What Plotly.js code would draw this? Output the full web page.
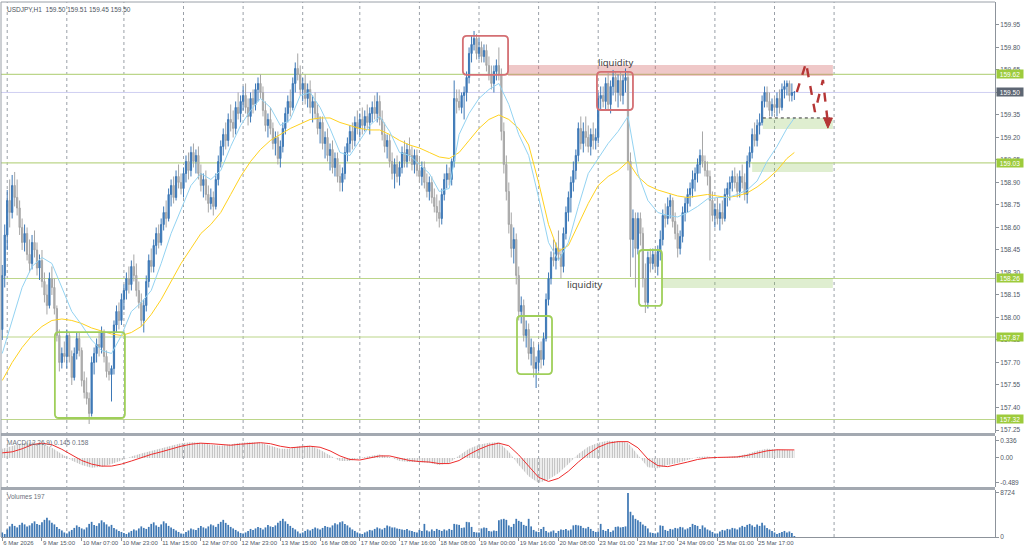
<!DOCTYPE html>
<html><head><meta charset="utf-8">
<script src="https://cdn.plot.ly/plotly-3.0.1.min.js"></script>
<style>html,body{margin:0;padding:0;background:#fff;}#chart{width:1024px;height:551px;}</style>
</head><body><div id="chart"></div>
<script>
const headerText = "USDJPY,H1  159.50 159.51 159.45 159.50";
const macdLabel = "MACD(12,26,9) 0.145 0.158";
const volLabel = "Volumes 197";

const opens = [157.92,158.28,158.55,158.78,158.70,158.88,158.80,158.73,158.60,158.50,158.56,158.42,158.36,158.50,158.45,158.33,158.38,158.24,158.15,158.08,158.26,158.20,158.06,157.88,157.70,157.76,
157.74,157.88,157.74,157.60,157.76,157.86,157.78,157.58,157.50,157.46,157.36,157.70,157.76,157.82,157.80,157.90,157.74,157.64,157.62,157.66,157.95,158.04,157.98,158.12,
158.18,158.26,158.22,158.34,158.28,158.18,158.10,157.98,158.08,158.24,158.38,158.34,158.48,158.56,158.50,158.62,158.70,158.66,158.82,158.88,158.80,158.94,158.90,
158.86,158.96,159.04,158.98,159.10,159.04,159.08,158.96,158.88,158.92,158.82,158.76,158.80,158.74,158.92,159.04,159.14,159.22,159.18,159.32,159.30,159.26,159.40,159.36,
159.44,159.48,159.40,159.34,159.46,159.42,159.52,159.56,159.50,159.38,159.28,159.32,159.26,159.16,159.20,159.06,159.14,159.26,159.36,159.44,159.40,159.56,159.66,159.62,
159.52,159.56,159.46,159.52,159.40,159.44,159.36,159.26,159.30,159.16,159.20,159.08,159.12,159.00,159.06,158.94,158.90,158.96,159.10,159.16,159.24,159.18,159.30,159.26,
159.32,159.28,159.34,159.30,159.36,159.40,159.36,159.44,159.32,159.22,159.14,159.18,159.04,158.96,159.02,158.94,159.00,159.10,159.04,159.12,159.08,159.02,159.08,
158.98,158.94,159.00,158.90,158.84,158.90,158.80,158.74,158.70,158.66,158.82,158.92,158.96,158.92,159.04,159.46,159.44,159.40,159.48,159.50,159.60,159.76,159.82,159.86,
159.76,159.80,159.74,159.78,159.68,159.62,159.56,159.64,159.68,159.62,159.24,159.02,158.84,158.62,158.46,158.52,158.28,158.04,158.08,157.88,157.92,157.76,157.80,157.66,
157.70,157.78,157.72,157.86,158.12,158.26,158.40,158.38,158.46,158.42,158.34,158.56,158.70,158.80,158.90,158.98,159.08,159.26,159.16,159.24,159.20,159.14,159.22,159.18,
159.20,159.46,159.48,159.44,159.56,159.42,159.54,159.60,159.50,159.58,159.48,159.58,159.60,159.04,158.52,158.66,158.46,158.66,158.56,158.26,158.10,158.40,158.36,158.42,
158.34,158.44,158.52,158.68,158.66,158.74,158.78,158.64,158.56,158.46,158.54,158.70,158.76,158.82,158.86,158.92,158.96,159.02,159.08,159.04,158.98,158.94,158.78,158.68,
158.72,158.66,158.70,158.66,158.82,158.86,158.90,158.94,158.90,158.84,158.94,158.90,158.82,159.04,159.10,159.22,159.18,159.28,159.30,159.44,159.50,159.44,159.38,159.42,
159.40,159.46,159.40,159.52,159.54,159.56,159.48,159.50];

const highs = [158.35,158.62,158.85,158.92,158.95,158.97,158.92,158.78,158.66,158.62,158.60,158.52,158.55,158.58,158.50,158.42,158.45,158.30,158.22,158.30,158.34,158.26,158.08,157.92,157.80,157.84,
157.92,157.90,157.78,157.80,157.90,157.90,157.80,157.64,157.60,157.50,157.74,157.80,157.86,157.90,157.94,157.92,157.78,157.70,157.68,157.98,158.08,158.10,158.16,158.22,
158.30,158.34,158.38,158.42,158.36,158.24,158.16,158.12,158.28,158.42,158.46,158.52,158.60,158.62,158.66,158.74,158.78,158.86,158.92,158.94,158.98,159.02,158.96,
159.00,159.08,159.10,159.14,159.16,159.12,159.14,159.02,158.96,158.98,158.88,158.86,158.84,158.96,159.08,159.18,159.26,159.30,159.36,159.42,159.38,159.44,159.50,159.48,
159.54,159.56,159.46,159.50,159.52,159.56,159.60,159.62,159.54,159.44,159.36,159.40,159.30,159.24,159.24,159.18,159.30,159.40,159.48,159.52,159.60,159.70,159.76,159.68,
159.60,159.62,159.56,159.58,159.48,159.50,159.42,159.34,159.34,159.24,159.26,159.16,159.18,159.10,159.10,159.02,159.00,159.14,159.20,159.28,159.30,159.34,159.38,159.36,
159.40,159.38,159.42,159.40,159.44,159.48,159.50,159.48,159.38,159.30,159.22,159.22,159.10,159.06,159.08,159.04,159.14,159.18,159.16,159.20,159.14,159.12,159.12,
159.06,159.04,159.04,158.96,158.94,158.94,158.86,158.82,158.78,158.86,158.96,159.02,159.00,159.06,159.58,159.52,159.52,159.50,159.54,159.64,159.80,159.88,159.91,159.89,
159.86,159.84,159.82,159.82,159.74,159.68,159.68,159.72,159.80,159.66,159.30,159.08,158.90,158.70,158.60,158.56,158.34,158.14,158.12,157.98,157.96,157.86,157.84,157.74,
157.82,157.84,157.90,158.16,158.30,158.44,158.52,158.50,158.58,158.46,158.60,158.74,158.84,158.94,159.04,159.12,159.30,159.34,159.30,159.34,159.28,159.26,159.30,159.26,
159.50,159.54,159.54,159.60,159.63,159.58,159.65,159.64,159.62,159.64,159.62,159.66,159.64,159.10,158.72,158.70,158.70,158.70,158.60,158.36,158.44,158.46,158.46,158.46,
158.48,158.58,158.72,158.76,158.80,158.82,158.80,158.70,158.62,158.58,158.74,158.80,158.86,158.90,158.98,159.00,159.06,159.12,159.24,159.08,159.04,158.98,158.84,158.76,
158.80,158.76,158.78,158.86,158.90,158.94,158.98,159.00,158.96,158.98,159.02,158.96,159.08,159.14,159.26,159.30,159.32,159.36,159.48,159.54,159.54,159.50,159.46,159.48,
159.50,159.52,159.56,159.58,159.58,159.58,159.56,159.51];

const lows = [157.85,158.20,158.45,158.60,158.66,158.74,158.68,158.55,158.45,158.44,158.38,158.30,158.32,158.40,158.28,158.25,158.20,158.10,158.02,158.06,158.15,158.02,157.84,157.64,157.66,157.70,
157.66,157.70,157.55,157.58,157.72,157.74,157.54,157.46,157.42,157.29,157.34,157.62,157.70,157.74,157.76,157.70,157.60,157.58,157.44,157.62,157.90,157.92,157.95,158.05,
158.12,158.16,158.18,158.24,158.14,158.06,157.94,157.90,158.04,158.20,158.30,158.30,158.42,158.46,158.48,158.58,158.60,158.64,158.74,158.76,158.78,158.86,158.82,
158.80,158.90,158.92,158.94,159.00,158.96,158.92,158.84,158.80,158.78,158.70,158.72,158.68,158.72,158.88,159.00,159.08,159.12,159.14,159.24,159.20,159.22,159.32,159.30,
159.38,159.36,159.28,159.30,159.36,159.38,159.44,159.46,159.34,159.24,159.20,159.22,159.12,159.08,159.02,159.00,159.10,159.22,159.30,159.34,159.38,159.50,159.58,159.48,
159.44,159.42,159.40,159.36,159.30,159.32,159.22,159.16,159.12,159.06,159.04,158.98,158.96,158.94,158.90,158.84,158.84,158.92,159.04,159.10,159.12,159.14,159.22,159.20,
159.22,159.24,159.26,159.22,159.30,159.32,159.30,159.28,159.18,159.10,159.06,159.00,158.92,158.86,158.90,158.88,158.96,159.00,159.00,159.04,158.98,158.96,158.94,
158.90,158.88,158.86,158.80,158.78,158.76,158.70,158.64,158.60,158.62,158.78,158.86,158.88,158.88,159.00,159.36,159.38,159.36,159.32,159.44,159.56,159.70,159.78,159.72,
159.72,159.70,159.70,159.64,159.58,159.52,159.50,159.58,159.58,159.18,158.96,158.78,158.56,158.40,158.36,158.22,157.98,157.96,157.84,157.80,157.72,157.68,157.60,157.53,
157.64,157.66,157.68,157.84,158.08,158.22,158.34,158.32,158.38,158.26,158.30,158.52,158.64,158.70,158.84,158.92,159.04,159.12,159.10,159.14,159.10,159.08,159.12,159.12,
159.16,159.38,159.40,159.38,159.38,159.36,159.48,159.44,159.40,159.44,159.42,159.50,158.98,158.27,158.40,158.20,158.42,158.48,158.20,158.03,158.06,158.30,158.32,158.30,
158.28,158.38,158.48,158.60,158.62,158.66,158.60,158.52,158.40,158.42,158.50,158.64,158.70,158.74,158.80,158.84,158.90,158.96,159.00,158.94,158.88,158.38,158.64,158.60,
158.62,158.58,158.62,158.64,158.74,158.78,158.84,158.86,158.80,158.80,158.86,158.78,158.76,159.00,159.06,159.14,159.14,159.22,159.28,159.40,159.40,159.34,159.34,159.36,
159.34,159.36,159.38,159.46,159.48,159.44,159.44,159.45];

const closes = [158.28,158.55,158.78,158.70,158.88,158.80,158.73,158.60,158.50,158.56,158.42,158.36,158.50,158.45,158.33,158.38,158.24,158.15,158.08,158.26,158.20,158.06,157.88,157.70,157.76,157.74,
157.88,157.74,157.60,157.76,157.86,157.78,157.58,157.50,157.46,157.36,157.70,157.76,157.82,157.80,157.90,157.74,157.64,157.62,157.66,157.95,158.04,157.98,158.12,158.18,
158.26,158.22,158.34,158.28,158.18,158.10,157.98,158.08,158.24,158.38,158.34,158.48,158.56,158.50,158.62,158.70,158.66,158.82,158.88,158.80,158.94,158.90,158.86,
158.96,159.04,158.98,159.10,159.04,159.08,158.96,158.88,158.92,158.82,158.76,158.80,158.74,158.92,159.04,159.14,159.22,159.18,159.32,159.30,159.26,159.40,159.36,159.44,
159.48,159.40,159.34,159.46,159.42,159.52,159.56,159.50,159.38,159.28,159.32,159.26,159.16,159.20,159.06,159.14,159.26,159.36,159.44,159.40,159.56,159.66,159.62,159.52,
159.56,159.46,159.52,159.40,159.44,159.36,159.26,159.30,159.16,159.20,159.08,159.12,159.00,159.06,158.94,158.90,158.96,159.10,159.16,159.24,159.18,159.30,159.26,159.32,
159.28,159.34,159.30,159.36,159.40,159.36,159.44,159.32,159.22,159.14,159.18,159.04,158.96,159.02,158.94,159.00,159.10,159.04,159.12,159.08,159.02,159.08,158.98,
158.94,159.00,158.90,158.84,158.90,158.80,158.74,158.70,158.66,158.82,158.92,158.96,158.92,159.04,159.46,159.44,159.40,159.48,159.50,159.60,159.76,159.82,159.86,159.76,
159.80,159.74,159.78,159.68,159.62,159.56,159.64,159.68,159.62,159.24,159.02,158.84,158.62,158.46,158.52,158.28,158.04,158.08,157.88,157.92,157.76,157.80,157.66,157.70,
157.78,157.72,157.86,158.12,158.26,158.40,158.38,158.46,158.42,158.34,158.56,158.70,158.80,158.90,158.98,159.08,159.26,159.16,159.24,159.20,159.14,159.22,159.18,159.20,
159.46,159.48,159.44,159.56,159.42,159.54,159.60,159.50,159.58,159.48,159.58,159.60,159.04,158.52,158.66,158.46,158.66,158.56,158.26,158.10,158.40,158.36,158.42,158.34,
158.44,158.52,158.68,158.66,158.74,158.78,158.64,158.56,158.46,158.54,158.70,158.76,158.82,158.86,158.92,158.96,159.02,159.08,159.04,158.98,158.94,158.78,158.68,158.72,
158.66,158.70,158.66,158.82,158.86,158.90,158.94,158.90,158.84,158.94,158.90,158.82,159.04,159.10,159.22,159.18,159.28,159.30,159.44,159.50,159.44,159.38,159.42,159.40,
159.46,159.40,159.52,159.54,159.56,159.48,159.50,159.50];

const volumes = [900,600,
1500,2100,2600,2200,1900,2400,2800,2500,2100,2300,2700,3100,2600,2400,2900,3400,3800,3300,2800,2500,2000,1600,1300,900,
700,1100,1400,1800,2300,2000,1700,1500,1900,2600,3000,2400,2200,2700,3300,2900,2500,2100,2400,1800,1500,1200,1000,800,
600,900,1200,1500,1300,1700,2100,1800,1600,2000,2600,2900,2300,2000,2500,3100,2700,2200,1900,1600,1300,1000,700,
650,1000,1300,1700,1500,1400,1800,2200,1900,1700,2100,2500,2300,2000,2600,3000,3400,2800,2400,2000,1700,1400,1100,800,
700,900,1200,1600,1400,1700,2000,1800,1500,1900,2400,2100,2000,2300,2800,3200,3600,3100,2600,2200,1800,1500,1100,700,
900,1200,1500,1300,1600,1900,1700,1500,1800,2200,2000,1900,2300,2700,2500,2900,3100,2600,2300,1900,1500,1200,900,700,
600,900,1100,1400,1300,1600,1900,1700,1500,1800,2300,2100,1900,1900,1700,1600,1500,1400,1600,1300,1200,1000,900,
1400,1200,2600,1300,1100,1500,1200,1600,1400,1200,1500,1300,1600,1400,2600,2500,2400,1800,1900,3000,2900,2000,1000,900,
900,1700,1900,1800,1200,1100,1300,1200,3300,3500,3600,3400,2300,2000,2600,3600,3200,3000,2400,2200,3600,2100,1400,1100,
1000,1600,2000,1200,900,1100,1300,800,1200,1500,1400,1600,1300,1500,2300,2400,2300,2200,1800,1700,2000,1600,1200,1000,
1100,2600,1400,1200,1600,1000,1300,2000,2100,1900,2000,2100,8724,5000,4300,3600,3300,3000,2500,2200,1700,900,800,700,
900,2300,2200,1400,1200,1600,1500,1800,1700,2000,1900,1500,1700,2000,2600,2400,2200,1600,2300,1900,1500,1300,1000,700,
700,1100,1400,1300,1600,1500,1800,1700,1500,1900,2200,2000,2400,2600,2300,2000,2500,2200,2800,2300,1800,1500,1200,900,
600,800,1000,1200,900,1100,800,197];

const timeLabels = ["6 Mar 2026","9 Mar 15:00","10 Mar 07:00","10 Mar 23:00","11 Mar 15:00","12 Mar 07:00","12 Mar 23:00","13 Mar 15:00","16 Mar 08:00","17 Mar 00:00","17 Mar 16:00","18 Mar 08:00","19 Mar 00:00","19 Mar 16:00","20 Mar 08:00","23 Mar 01:00","23 Mar 17:00","24 Mar 09:00","25 Mar 01:00","25 Mar 17:00"];
const timeLabelBars = [0,16,32,48,64,80,96,112,128,144,160,176,192,208,224,240,256,272,288,304];

// indicator readings, sampled every 4 bars (plus last bar)
const sampleBars = [0,4,8,12,16,20,24,28,32,36,40,44,48,52,56,60,64,68,72,76,80,84,88,92,96,100,104,108,112,116,120,124,128,132,136,140,144,148,152,156,160,164,168,172,176,180,184,188,192,196,200,204,208,212,216,220,224,228,232,236,240,244,248,252,256,260,264,268,272,276,280,284,288,292,296,300,304,308,312,316,319];
const maFast = [157.76,157.98,158.20,158.34,158.40,158.36,158.20,158.04,157.95,157.85,
157.78,157.76,157.88,158.04,158.10,158.18,158.36,158.56,158.72,158.88,
158.96,158.92,158.98,159.14,159.28,159.38,159.46,159.40,159.28,159.32,
159.48,159.50,159.40,159.26,159.10,159.08,159.18,159.28,159.34,159.24,
159.10,159.08,159.02,158.96,158.84,158.86,159.22,159.36,159.46,159.52,
159.56,159.42,159.22,159.08,158.80,158.50,158.38,158.50,158.74,158.96,
159.06,159.16,159.24,159.34,158.96,158.78,158.70,158.68,158.67,158.70,
158.74,158.79,158.80,158.80,158.82,158.85,158.91,159.04,159.14,159.26,159.33];
const maSlow = [157.58,157.70,157.80,157.88,157.94,157.98,157.99,157.98,157.96,157.93,
157.91,157.89,157.88,157.90,157.94,158.02,158.12,158.24,158.36,158.46,
158.56,158.62,158.70,158.82,158.94,159.04,159.12,159.18,159.22,159.26,
159.29,159.32,159.33,159.33,159.30,159.28,159.26,159.25,159.25,159.22,
159.18,159.15,159.13,159.10,159.07,159.06,159.10,159.18,159.26,159.32,
159.35,159.32,159.26,159.15,158.90,158.62,158.44,158.48,158.62,158.76,
158.88,158.94,158.98,159.04,158.94,158.88,158.85,158.83,158.81,158.80,
158.81,158.82,158.81,158.80,158.81,158.83,158.87,158.92,158.98,159.06,159.10];
const macdMain = [0.18,0.24,0.29,0.31,0.28,0.20,0.07,-0.05,-0.14,-0.19,
-0.17,-0.12,-0.05,0.03,0.09,0.14,0.20,0.25,0.29,0.31,
0.30,0.26,0.24,0.27,0.30,0.31,0.30,0.24,0.18,0.18,
0.24,0.24,0.16,0.05,-0.06,-0.06,0.00,0.04,0.07,0.02,
-0.06,-0.08,-0.08,-0.10,-0.14,-0.10,0.05,0.18,0.26,0.30,
0.31,0.12,-0.14,-0.36,-0.489,-0.42,-0.30,-0.12,0.08,0.22,
0.30,0.336,0.33,0.30,0.05,-0.18,-0.20,-0.14,-0.10,-0.04,
0.02,0.03,0.00,0.02,0.04,0.08,0.14,0.18,0.17,0.16,0.145];
const macdSignal = [0.10,0.12,0.18,0.26,0.29,0.26,0.17,0.06,-0.05,-0.12,
-0.16,-0.16,-0.12,-0.06,0.01,0.07,0.12,0.18,0.23,0.27,
0.29,0.28,0.26,0.25,0.27,0.29,0.30,0.28,0.23,0.20,
0.21,0.23,0.21,0.14,0.04,-0.03,-0.04,0.00,0.04,0.04,
0.00,-0.05,-0.07,-0.08,-0.11,-0.11,-0.05,0.07,0.17,0.25,
0.29,0.24,0.06,-0.17,-0.38,-0.46,-0.40,-0.26,-0.08,0.08,
0.21,0.29,0.32,0.32,0.20,-0.02,-0.15,-0.17,-0.13,-0.08,
-0.03,0.00,0.01,0.01,0.02,0.05,0.09,0.14,0.16,0.16,0.158];

const priceTicks = [157.25,157.40,157.55,157.70,157.85,158.00,158.15,158.30,158.45,158.60,158.75,158.90,159.05,159.20,159.35,159.50,159.65,159.80,159.95];
const levels = [159.62,159.03,158.26,157.87,157.32];
const bidPrice = 159.50;
const macdTicks = [0.336,0,-0.489];
const macdTickText = ["0.336","0.00","-0.489"];
const volTicks = [8724,0];

const barIdx = closes.map((_, i) => i);

// ---------- layout constants ----------
const FONT = "Liberation Sans, Arial, sans-serif";
const axisFont = {family: FONT, size: 6.5, color: "#505866"};
const xFont = {family: FONT, size: 6, color: "#505866"};
const dMain = [0.1944, 1], dMacd = [0.0935, 0.1888], dVol = [0, 0.0879];
const daySeparators = [2,26,49,73,97,121,144,168,192,216,240,263,287,311,335];

function rr(x0, x1, y0, y1) {
  const rx = 1.6, ry = 0.027;
  return `M${x0+rx},${y1} L${x1-rx},${y1} Q${x1},${y1} ${x1},${y1-ry} L${x1},${y0+ry} Q${x1},${y0} ${x1-rx},${y0} L${x0+rx},${y0} Q${x0},${y0} ${x0},${y0+ry} L${x0},${y1-ry} Q${x0},${y1} ${x0+rx},${y1} Z`;
}

const traces = [
  {type:"scatter", mode:"lines", x:sampleBars, y:maSlow, xaxis:"x", yaxis:"y",
   line:{color:"#ffd21f", width:1}, hoverinfo:"skip"},
  {type:"scatter", mode:"lines", x:sampleBars, y:maFast, xaxis:"x", yaxis:"y",
   line:{color:"#93d3f2", width:1}, hoverinfo:"skip"},
  {type:"candlestick", x:barIdx, open:opens, high:highs, low:lows, close:closes,
   xaxis:"x", yaxis:"y", whiskerwidth:0,
   increasing:{line:{color:"#3d78b6", width:1}, fillcolor:"#3d78b6"},
   decreasing:{line:{color:"#a6a6a6", width:1}, fillcolor:"#b4b4b4"},
   hoverinfo:"skip"},
  {type:"scatter", mode:"lines", x:sampleBars, y:macdMain, xaxis:"x", yaxis:"y2",
   line:{width:0, color:"rgba(0,0,0,0)"}, fill:"tozeroy", fillcolor:"rgba(0,0,0,0)",
   fillpattern:{shape:"|", fgcolor:"#b3b3b3", bgcolor:"rgba(0,0,0,0)", size:2.5, solidity:0.45},
   hoverinfo:"skip"},
  {type:"scatter", mode:"lines", x:sampleBars, y:macdSignal, xaxis:"x", yaxis:"y2",
   line:{color:"#ee2c2c", width:1}, hoverinfo:"skip"},
  {type:"bar", x:barIdx, y:volumes, xaxis:"x", yaxis:"y3", width:0.7,
   marker:{color:"#3f78b4", line:{width:0}}, hoverinfo:"skip"}
];

const shapes = [];
daySeparators.forEach(d => shapes.push({type:"line", xref:"x", yref:"paper", x0:d, x1:d, y0:0, y1:1,
  line:{color:"#9aa0a8", width:1, dash:"dot"}, layer:"below"}));
// zones
shapes.push({type:"rect", xref:"x", yref:"y", x0:203.7, x1:334.5, y0:159.61, y1:159.683,
  fillcolor:"rgba(214,110,110,0.38)", line:{width:0}, layer:"below"});
shapes.push({type:"rect", xref:"x", yref:"y", x0:265.7, x1:334.5, y0:158.197, y1:158.263,
  fillcolor:"rgba(150,200,100,0.30)", line:{width:0}, layer:"below"});
shapes.push({type:"rect", xref:"x", yref:"y", x0:306.3, x1:334.5, y0:159.257, y1:159.33,
  fillcolor:"rgba(150,200,100,0.30)", line:{width:0}, layer:"below"});
shapes.push({type:"rect", xref:"x", yref:"y", x0:302, x1:334.5, y0:158.97, y1:159.03,
  fillcolor:"rgba(150,200,100,0.30)", line:{width:0}, layer:"below"});
// horizontal levels
levels.forEach(v => shapes.push({type:"line", xref:"paper", yref:"y", x0:0, x1:1, y0:v, y1:v,
  line:{color:"#bcd68a", width:1.2}, layer:"below"}));
shapes.push({type:"line", xref:"paper", yref:"y", x0:0, x1:1, y0:bidPrice, y1:bidPrice,
  line:{color:"#cfcff2", width:1}, layer:"below"});
// rounded rectangles
shapes.push({type:"path", xref:"x", yref:"y", path:rr(185.5,203.7,159.617,159.877), line:{color:"#d46f73", width:1.8}});
shapes.push({type:"path", xref:"x", yref:"y", path:rr(239.5,254.0,159.383,159.637), line:{color:"#d46f73", width:1.8}});
shapes.push({type:"path", xref:"x", yref:"y", path:rr(21.2,49.4,157.33,157.903), line:{color:"#9fcf5a", width:1.8}});
shapes.push({type:"path", xref:"x", yref:"y", path:rr(207.3,221.4,157.623,158.01), line:{color:"#9fcf5a", width:1.8}});
shapes.push({type:"path", xref:"x", yref:"y", path:rr(256.4,265.7,158.077,158.45), line:{color:"#9fcf5a", width:1.8}});
// dotted marker line
shapes.push({type:"line", xref:"x", yref:"y", x0:306.3, x1:333.4, y0:159.33, y1:159.33, line:{color:"#333", width:1, dash:"dot"}});
// projected zigzag
shapes.push({type:"path", xref:"x", yref:"y", path:"M320.0,159.503 L323.7,159.697 L327.3,159.37 L330.5,159.583 L332.4,159.31",
  line:{color:"#b53636", width:2.4, dash:"dash"}});
shapes.push({type:"path", xref:"x", yref:"y", path:"M330.8,159.33 L334.3,159.33 L332.5,159.262 Z",
  fillcolor:"#b53636", line:{color:"#b53636", width:1}});
// panel separators
shapes.push({type:"rect", xref:"paper", yref:"paper", x0:0, x1:1, y0:dMain[0]-0.0056, y1:dMain[0], fillcolor:"#a3a9b1", line:{width:0}});
shapes.push({type:"rect", xref:"paper", yref:"paper", x0:0, x1:1, y0:dVol[1], y1:dVol[1]+0.0056, fillcolor:"#a3a9b1", line:{width:0}});
// frame
shapes.push({type:"line", xref:"paper", yref:"paper", x0:0, x1:0, y0:0, y1:1, line:{color:"#9aa0a8", width:1}});
shapes.push({type:"line", xref:"paper", yref:"paper", x0:0, x1:1, y0:1, y1:1, line:{color:"#9aa0a8", width:1}});

const annotations = [
  {xref:"paper", yref:"paper", x:0, y:1, xanchor:"left", yanchor:"top", xshift:4, yshift:-2,
   text:headerText, showarrow:false, font:{family:FONT, size:6.5, color:"#4e5560"}},
  {xref:"paper", yref:"paper", x:0, y:dMacd[1], xanchor:"left", yanchor:"top", xshift:4, yshift:-1,
   text:macdLabel, showarrow:false, font:{family:FONT, size:6.5, color:"#6a707a"}},
  {xref:"paper", yref:"paper", x:0, y:dVol[1], xanchor:"left", yanchor:"top", xshift:4, yshift:-1,
   text:volLabel, showarrow:false, font:{family:FONT, size:6.5, color:"#6a707a"}},
  {xref:"x", yref:"y", x:247, y:159.70, text:"liquidity", showarrow:false,
   font:{family:"Open Sans, sans-serif", size:9.5, color:"#333"}},
  {xref:"x", yref:"y", x:234.6, y:158.223, text:"liquidity", showarrow:false,
   font:{family:"Open Sans, sans-serif", size:9.5, color:"#333"}}
];
levels.forEach(v => annotations.push({xref:"paper", yref:"y", x:1, y:v, xanchor:"left", xshift:1,
  text:v.toFixed(2), showarrow:false, bgcolor:"#9dcb3c", width:26, height:8, borderpad:0,
  font:{family:FONT, size:6.5, color:"#ffffff"}}));
annotations.push({xref:"paper", yref:"y", x:1, y:bidPrice, xanchor:"left", xshift:1,
  text:bidPrice.toFixed(2), showarrow:false, bgcolor:"#5d6673", width:26, height:8, borderpad:0,
  font:{family:FONT, size:6.5, color:"#ffffff"}});

const n = closes.length;
if (opens.length!==n || highs.length!==n || lows.length!==n || volumes.length!==n || maFast.length!==sampleBars.length || maSlow.length!==sampleBars.length || macdMain.length!==sampleBars.length || macdSignal.length!==sampleBars.length) {
  annotations.push({xref:"paper", yref:"paper", x:0.4, y:0.6, showarrow:false, text:`LEN ${opens.length} ${highs.length} ${lows.length} ${n} ${volumes.length} | ${sampleBars.length} ${maFast.length} ${maSlow.length} ${macdMain.length} ${macdSignal.length}`, font:{size:14,color:"red"}});
}

const yCommon = {side:"right", ticks:"outside", ticklen:3, tickcolor:"#8d939b", showgrid:false, zeroline:false,
  showline:true, linecolor:"#8d939b", linewidth:1, tickfont:axisFont, fixedrange:true};

const layout = {
  width:1024, height:551,
  margin:{l:1, r:29, t:2, b:14},
  paper_bgcolor:"#ffffff", plot_bgcolor:"rgba(0,0,0,0)",
  showlegend:false, dragmode:false,
  font:{family:FONT, size:6.5, color:"#505866"},
  xaxis:{range:[-0.5, 399.8], anchor:"y3", showgrid:false, zeroline:false,
    tickmode:"array", tickvals:timeLabelBars, ticktext:timeLabels, ticks:"outside", ticklen:3, tickcolor:"#8d939b",
    tickangle:0, automargin:false,
    ticklabelposition:"outside right", tickfont:xFont, showline:true, linecolor:"#8d939b",
    rangeslider:{visible:false}, fixedrange:true},
  yaxis:Object.assign({}, yCommon, {domain:dMain, range:[157.23,160.103], tickmode:"array", tickvals:priceTicks,
    ticktext:priceTicks.map(v=>v.toFixed(2))}),
  yaxis2:Object.assign({}, yCommon, {domain:dMacd, range:[-0.569,0.431], tickmode:"array", tickvals:macdTicks, ticktext:macdTickText}),
  yaxis3:Object.assign({}, yCommon, {domain:dVol, range:[0,9319], tickmode:"array", tickvals:volTicks, ticktext:volTicks.map(String)}),
  shapes:shapes, annotations:annotations
};

Plotly.newPlot("chart", traces, layout, {staticPlot:true, displayModeBar:false});
</script>
</body></html>
